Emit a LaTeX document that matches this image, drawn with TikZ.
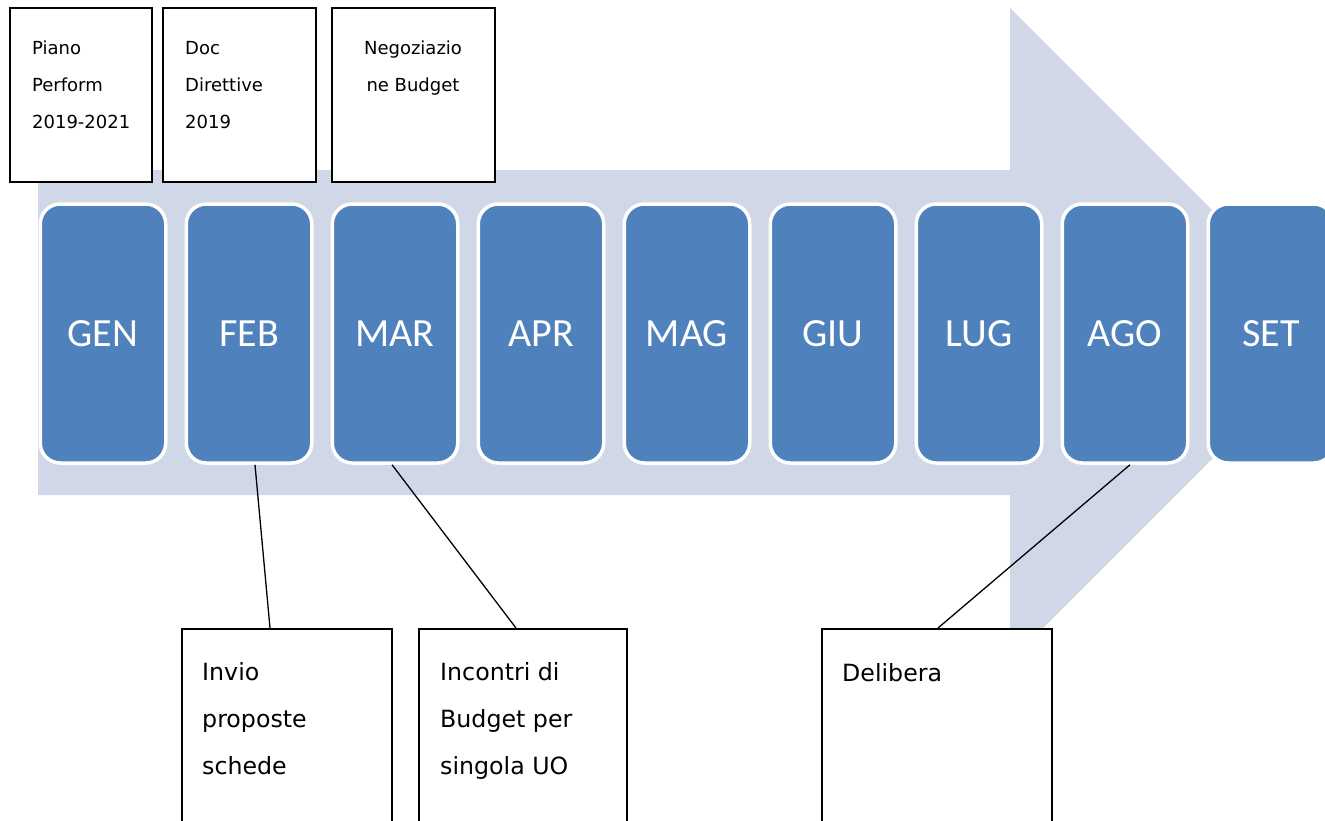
\documentclass[tikz,border=0pt]{standalone}
\usepackage{fontspec}
\newfontfamily\monthfont{Carlito}
\newfontfamily\notefont{DejaVu Sans}
\definecolor{shaft}{RGB}{208,216,232}
\definecolor{monthblue}{RGB}{79,129,189}
\tikzset{
  month/.style={rectangle, rounded corners=20pt, fill=monthblue, draw=white,
    line width=3.5pt, minimum width=125.5pt, minimum height=259pt, inner sep=0pt,
    text=white, font=\monthfont\fontsize{40}{40}\selectfont},
  notebox/.style={rectangle, draw=black, fill=white, line width=1.8pt, inner sep=0pt},
  notetext/.style={inner sep=0pt, align=left, font=\notefont\fontsize{18}{37}\selectfont},
  calltext/.style={inner sep=0pt, align=left, font=\notefont\fontsize{23.7}{47}\selectfont},
  link/.style={draw=black, line width=1.3pt}
}
\begin{document}
\begin{tikzpicture}[x=1pt, y=-1pt]
\useasboundingbox (0,0) rectangle (1325,820);
\clip (0,0) rectangle (1325,820);

% background timeline arrow
\fill[shaft] (38,170) -- (1010,170) -- (1010,8) -- (1336.5,334.5)
  -- (1010,661) -- (1010,495) -- (38,495) -- cycle;

% months
\node[month] (gen) at (103,333.5) {GEN};
\node[month] (feb) at (249,333.5) {FEB};
\node[month] (mar) at (395,333.5) {MAR};
\node[month] (apr) at (541,333.5) {APR};
\node[month] (mag) at (687,333.5) {MAG};
\node[month] (giu) at (833,333.5) {GIU};
\node[month] (lug) at (979,333.5) {LUG};
\node[month] (ago) at (1125,333.5) {AGO};
\node[month] (set) at (1271,333.5) {SET};

% top notes
\node[notebox, minimum width=142pt, minimum height=174pt] (piano) at (81,95) {};
\node[notetext, anchor=north west] (pianotxt) at (32,41) {Piano\\Perform\\2019-2021};
\node[notebox, minimum width=153pt, minimum height=174pt] (doc) at (239.5,95) {};
\node[notetext, anchor=north west] (doctxt) at (185,41) {Doc\\Direttive\\2019};
\node[notebox, minimum width=163pt, minimum height=174pt] (nego) at (413.5,95) {};
\node[notetext, align=center, anchor=north] (negotxt) at (413,41) {Negoziazio\\ne Budget};

% bottom callouts
\node[notebox, minimum width=210pt, minimum height=300pt, anchor=north] (invio) at (287,628) {};
\node[calltext, anchor=north west] (inviotxt) at (202,662) {Invio\\proposte\\schede};
\node[notebox, minimum width=208pt, minimum height=300pt, anchor=north] (incontri) at (523,628) {};
\node[calltext, anchor=north west] (incontritxt) at (440,662) {Incontri di\\Budget per\\singola UO};
\node[notebox, minimum width=230pt, minimum height=300pt, anchor=north] (delibera) at (937,628) {};
\node[calltext, anchor=north west] (deliberatxt) at (842,663) {Delibera};

% connectors
\draw[link] ([xshift=6pt]feb.south) -- ([xshift=-17pt]invio.north);
\draw[link] ([xshift=-3pt]mar.south) -- ([xshift=-7pt]incontri.north);
\draw[link] ([xshift=5pt]ago.south) -- ([xshift=1pt]delibera.north);
\end{tikzpicture}
\end{document}
